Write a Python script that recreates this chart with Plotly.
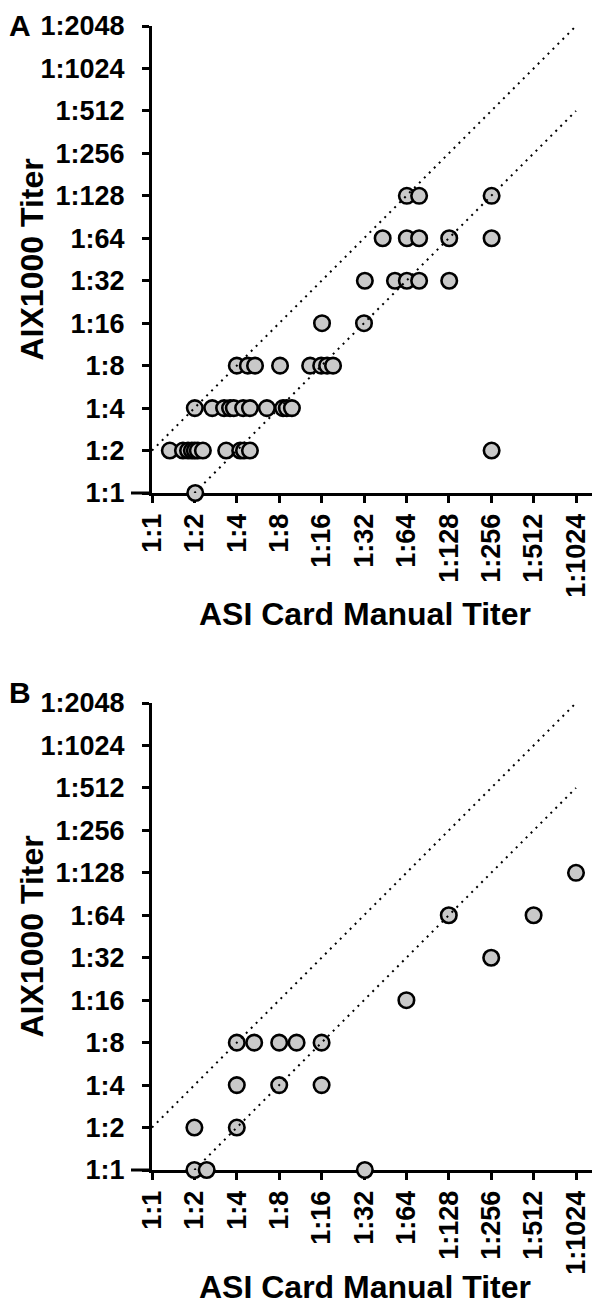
import plotly.graph_objects as go

# ---- data (log2 dilution steps: 0 -> 1:1, 1 -> 1:2, ...) ----
x_tick_labels = ["1:1", "1:2", "1:4", "1:8", "1:16", "1:32", "1:64", "1:128", "1:256", "1:512", "1:1024"]
y_tick_labels = ["1:1", "1:2", "1:4", "1:8", "1:16", "1:32", "1:64", "1:128", "1:256", "1:512", "1:1024", "1:2048"]

a_manual = [1.02,
            0.42, 0.73, 0.85, 0.94, 1.01, 1.08, 1.20, 1.75, 2.08, 2.17, 2.31, 8.01,
            1.01, 1.42, 1.70, 1.84, 1.93, 2.15, 2.31, 2.71, 3.09, 3.18, 3.30,
            2.00, 2.26, 2.43, 3.02, 3.73, 3.99, 4.13, 4.27,
            4.01, 5.00,
            5.02, 5.73, 6.01, 6.30, 7.01,
            5.44, 6.01, 6.30, 7.01, 8.01,
            6.01, 6.30, 8.01]
a_aix = [0,
         1, 1, 1, 1, 1, 1, 1, 1, 1, 1, 1, 1,
         2, 2, 2, 2, 2, 2, 2, 2, 2, 2, 2,
         3, 3, 3, 3, 3, 3, 3, 3,
         4, 4,
         5, 5, 5, 5, 5,
         6, 6, 6, 6, 6,
         7, 7, 7]

b_manual = [1.00, 1.29, 5.02,
            1.00, 2.00,
            2.00, 3.00, 4.00,
            2.00, 2.41, 3.00, 3.41, 4.00,
            6.00,
            8.00,
            7.00, 9.00,
            10.00]
b_aix = [0, 0, 0,
         1, 1,
         2, 2, 2,
         3, 3, 3, 3, 3,
         4,
         5,
         6, 6,
         7]

# +/- one two-fold dilution reference lines
upper_x = [0, 10]
upper_y = [1, 11]
lower_x = [1, 10]
lower_y = [0, 9]

# page body has an 8px default margin: size the figure to fit the window
OFF = 8
W, H = 600 - OFF, 1306 - OFF
FONT = "Liberation Sans, Arial, sans-serif"

fig = go.Figure()

def add_panel(xs, ys, xa, ya):
    fig.add_trace(go.Scatter(
        x=xs, y=ys, mode="markers", xaxis=xa, yaxis=ya, cliponaxis=False,
        marker=dict(size=15.5, color="#c9c9c9", line=dict(color="black", width=2.6)),
        showlegend=False, hoverinfo="skip"))
    for lx, ly in ((upper_x, upper_y), (lower_x, lower_y)):
        fig.add_trace(go.Scatter(
            x=lx, y=ly, mode="lines", xaxis=xa, yaxis=ya, cliponaxis=False,
            line=dict(color="black", width=2, dash="2px,5px"),
            showlegend=False, hoverinfo="skip"))

add_panel(a_manual, a_aix, "x", "y")
add_panel(b_manual, b_aix, "x2", "y2")

def px(p):
    return (p - OFF) / W

def py(p):
    return 1 - (p - OFF) / H

x_dom = [px(152), 1.0]
xr = [0, (600 - 152) / 42.4]
a_dom = [py(493), py(26)]
b_dom = [py(1170), py(703)]

tickfont = dict(family=FONT, size=27, color="black", weight="bold")

def xaxis_cfg(anchor):
    return dict(domain=x_dom, range=xr, anchor=anchor, showgrid=False, zeroline=False,
                showline=True, linecolor="black", linewidth=3, layer="below traces",
                ticks="outside", ticklen=7, tickwidth=3, tickcolor="black",
                tickvals=list(range(len(x_tick_labels))), ticktext=x_tick_labels,
                tickangle=-90, tickfont=tickfont, fixedrange=True, automargin=False)

def yaxis_cfg(dom, anchor):
    return dict(domain=dom, range=[0, 11], anchor=anchor, showgrid=False, zeroline=False,
                showline=True, linecolor="black", linewidth=3, layer="below traces",
                ticks="outside", ticklen=7, tickwidth=3, tickcolor="black",
                tickvals=list(range(len(y_tick_labels))), ticktext=y_tick_labels,
                tickfont=tickfont, ticklabelstandoff=12, fixedrange=True, automargin=False)

title_font = dict(family=FONT, size=32, color="black", weight="bold")
letter_font = dict(family=FONT, size=30, color="black", weight="bold")
ann = []
for top, bot, xt_y in ((26, 493, 614), (703, 1170, 1287)):
    ann.append(dict(text="AIX1000 Titer", x=px(31), y=py((top + bot) / 2), xref="paper", yref="paper",
                    textangle=-90, showarrow=False, font=title_font, xanchor="center", yanchor="middle"))
    ann.append(dict(text="ASI Card Manual Titer", x=px(365), y=py(xt_y), xref="paper", yref="paper",
                    showarrow=False, font=title_font, xanchor="center", yanchor="middle"))

ann.append(dict(text="A", x=0, y=1, xref="paper", yref="paper", showarrow=False,
                font=letter_font, xanchor="left", yanchor="top", borderpad=0))
ann.append(dict(text="B", x=0, y=py(692), xref="paper", yref="paper", showarrow=False,
                font=letter_font, xanchor="left", yanchor="middle", borderpad=0))

shapes = []
for bot in (493, 1170):
    shapes.append(dict(type="line", xref="paper", yref="paper", x0=px(131), x1=px(152),
                       y0=py(bot), y1=py(bot), line=dict(color="black", width=3)))

fig.update_layout(
    width=W, height=H, margin=dict(l=0, r=0, t=0, b=0, autoexpand=False),
    paper_bgcolor="white", plot_bgcolor="white",
    xaxis=xaxis_cfg("y"), yaxis=yaxis_cfg(a_dom, "x"),
    xaxis2=xaxis_cfg("y2"), yaxis2=yaxis_cfg(b_dom, "x2"),
    annotations=ann, shapes=shapes,
)

fig.write_html("out.html")
